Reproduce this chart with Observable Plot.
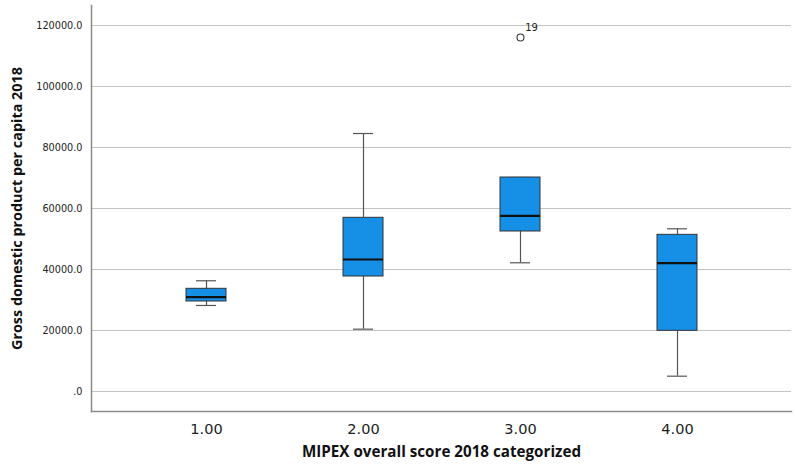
<!DOCTYPE html>
<html>
<head>
<meta charset="utf-8">
<script src="https://cdn.jsdelivr.net/npm/d3@7"></script>
<script src="https://cdn.jsdelivr.net/npm/@observablehq/plot@0.6"></script>
<style>
  html, body { margin: 0; padding: 0; background: #fff; }
  #chart svg { display: block; }
</style>
</head>
<body>
<div id="chart"></div>
<script>
const categories = ["1.00", "2.00", "3.00", "4.00"];
const mins    = [28200, 20430, 42200, 5020];
const q1s     = [29510, 37700, 52460, 19900];
const medians = [30920, 43280, 57600, 42070];
const q3s     = [33670, 56950, 70160, 51370];
const maxs    = [36300, 84590, 70160, 53340];
const outlierCats = ["3.00"];
const outlierValues = [116070];
const outlierLabels = ["19"];
const yTicks = [0, 20000, 40000, 60000, 80000, 100000, 120000];
const xTitle = "MIPEX overall score 2018 categorized";
const yTitle = "Gross domestic product per capita 2018";

const boxes = categories.map((c, i) => ({cat: c, min: mins[i], q1: q1s[i], med: medians[i], q3: q3s[i], max: maxs[i]}));
const outliers = outlierCats.map((c, i) => ({cat: c, v: outlierValues[i], label: outlierLabels[i]}));

const chart = Plot.plot({
  width: 795,
  height: 472,
  marginLeft: 91,
  marginRight: 4,
  marginTop: 5,
  marginBottom: 61,
  style: {fontFamily: "DejaVu Sans", color: "#222", background: "#fff"},
  x: {domain: categories, paddingInner: 0.746, paddingOuter: 0.5976, align: 0.5},
  y: {domain: [-6560, 126560]},
  marks: [
    Plot.gridY(yTicks, {stroke: "#c4c4c4", strokeOpacity: 1, strokeWidth: 1.2}),
    Plot.frame({anchor: "left", stroke: "#8a8a8a", strokeWidth: 1.5}),
    Plot.frame({anchor: "bottom", stroke: "#8a8a8a", strokeWidth: 1.5}),
    Plot.axisY(yTicks, {tickSize: 0, tickPadding: 9, fontSize: 9.7, label: null,
      tickFormat: d => d === 0 ? ".0" : d.toFixed(1)}),
    Plot.axisX({tickSize: 0, tickPadding: 12, fontSize: 14.5, label: null}),
    Plot.ruleX(boxes, {x: "cat", y1: "min", y2: "q1", stroke: "#555", strokeWidth: 1.2}),
    Plot.ruleX(boxes, {x: "cat", y1: "q3", y2: "max", stroke: "#555", strokeWidth: 1.2}),
    Plot.tickY(boxes, {x: "cat", y: "min", insetLeft: 10, insetRight: 10, stroke: "#555", strokeWidth: 1.2}),
    Plot.tickY(boxes, {x: "cat", y: "max", insetLeft: 10, insetRight: 10, stroke: "#555", strokeWidth: 1.2}),
    Plot.barY(boxes, {x: "cat", y1: "q1", y2: "q3", fill: "#1590e6", stroke: "#333", strokeWidth: 1}),
    Plot.tickY(boxes, {x: "cat", y: "med", stroke: "#111", strokeWidth: 2.2}),
    Plot.dot(outliers, {x: "cat", y: "v", r: 3.5, stroke: "#333", fill: "none", strokeWidth: 1.1}),
    Plot.text(outliers, {x: "cat", y: "v", text: "label", dx: 11, dy: -10, fontSize: 10, fill: "#222"}),
    Plot.text([xTitle], {frameAnchor: "bottom", dy: 45, fontSize: 15.2, fontWeight: "bold",
      fontFamily: "Open Sans", fill: "#111", textAnchor: "middle"}),
    Plot.text([yTitle], {frameAnchor: "left", rotate: -90, dx: -74, dy: 0, fontSize: 14.4,
      fontWeight: "bold", fontFamily: "Open Sans", fill: "#111", textAnchor: "middle"})
  ]
});
document.getElementById("chart").appendChild(chart);
</script>
</body>
</html>
